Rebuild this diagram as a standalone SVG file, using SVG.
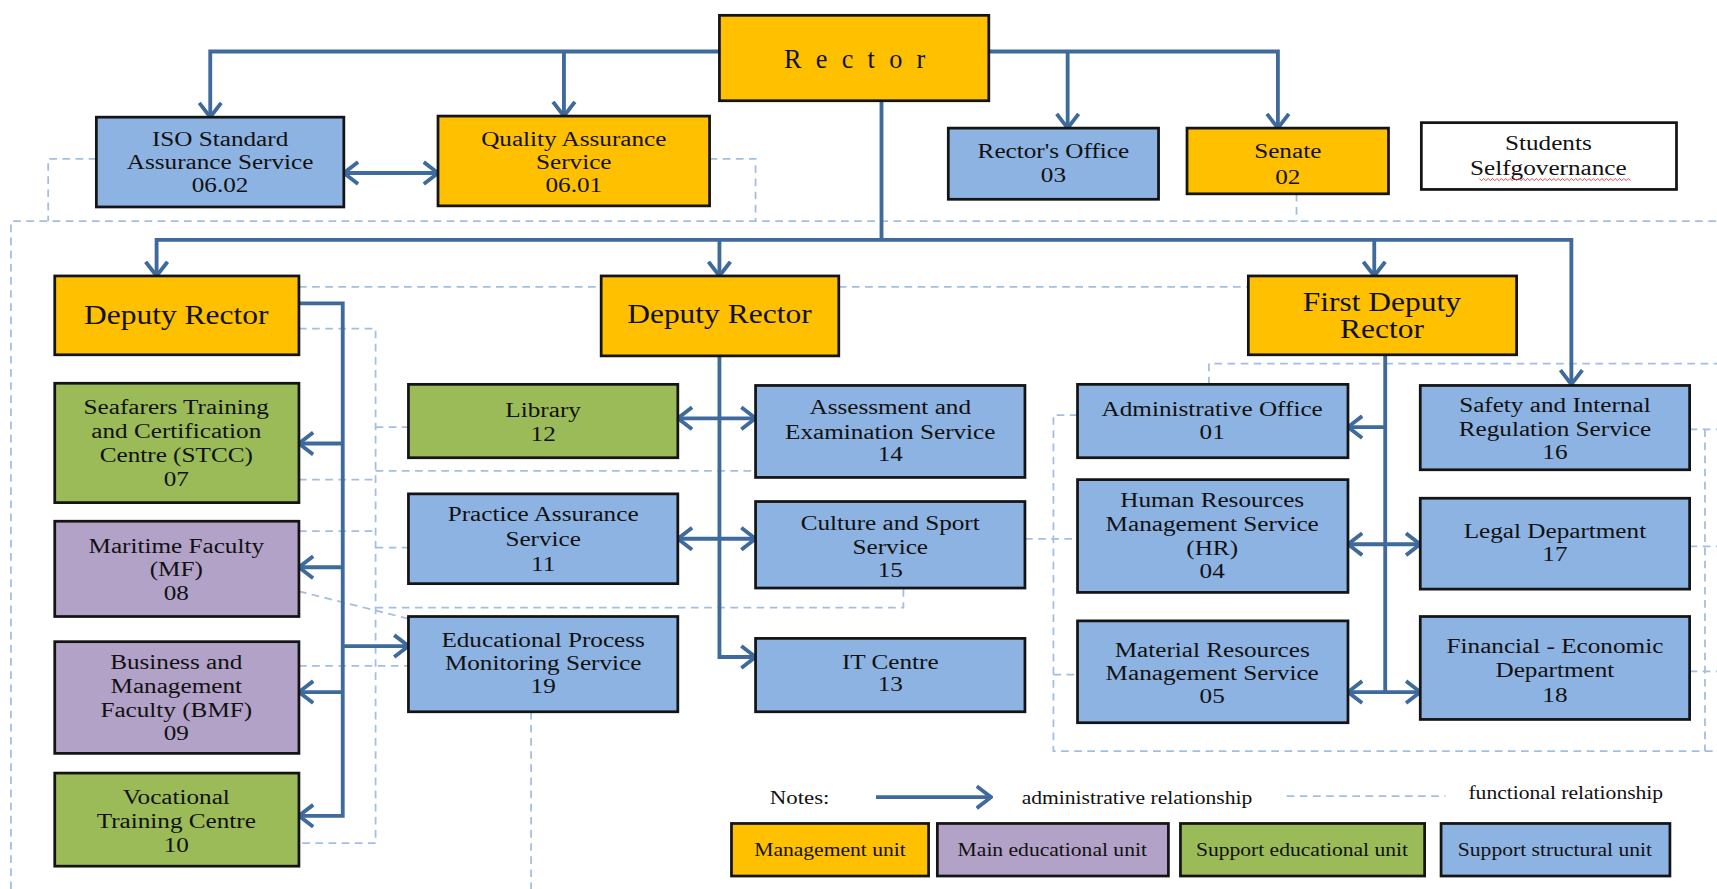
<svg xmlns="http://www.w3.org/2000/svg" width="1717" height="889" viewBox="0 0 1717 889">
<style>
.box{stroke:#141414;stroke-width:2.5}
.o{fill:#FFC000}.b{fill:#8DB3E2}.g{fill:#9BBB59}.p{fill:#B2A2C7}.w{fill:#FFFFFF}
.t{font-family:"Liberation Serif","Times New Roman",serif;font-size:20px;text-anchor:middle;fill:#111;transform-box:fill-box;transform-origin:center;transform:scaleX(1.15)}
.big{font-size:25px}
.lg{font-family:"Liberation Serif","Times New Roman",serif;font-size:17px;fill:#111;transform-box:fill-box;transform-origin:center;transform:scaleX(1.16)}
.ls{transform-origin:left center}
.adm{stroke:#3E6A9C;stroke-width:3.5;fill:none}
.fn{stroke:#A3BEDF;stroke-width:1.6;fill:none;stroke-dasharray:7 5}
</style>
<defs>
<marker id="ah" viewBox="0 0 16 24" markerWidth="16" markerHeight="24" refX="14" refY="12" orient="auto-start-reverse" markerUnits="userSpaceOnUse">
<path d="M1,2 L14,12 L1,22" fill="none" stroke="#3E6A9C" stroke-width="3.5"/>
</marker>
</defs>
<rect width="1717" height="889" fill="#FFFFFF"/>
<g transform="scale(1.09503)">
<g id="connectors">
<g class="fn">
<path d="M88,145 H44 V202"/>
<path d="M648,145 H690 V202"/>
<path d="M1184,177 V202"/>
<path d="M10,812 V202 H1568"/>
<path d="M273,262 H549"/>
<path d="M766,262 H1140"/>
<path d="M273,300 H343 V770 H273"/>
<path d="M273,438 H343"/>
<path d="M273,485 H343"/>
<path d="M273,608 H373"/>
<path d="M343,390 H373"/>
<path d="M343,500 H373"/>
<path d="M343,430 H690"/>
<path d="M343,555 H825 V537"/>
<path d="M273,540 L373,565"/>
<path d="M485,650 V812"/>
<path d="M1104,351 V332 H1568"/>
<path d="M984,379 H962 V686 H1568"/>
<path d="M936,492 H984"/>
<path d="M962,616 H984"/>
<path d="M1543,392 H1568"/>
<path d="M1557,392 V686"/>
<path d="M1543,499 H1568"/>
<path d="M1543,613 H1568"/>
<path d="M1175,727 H1320"/>
</g>
<g class="adm">
<path d="M657,47 H192 V107" marker-end="url(#ah)"/>
<path d="M515,47 V106" marker-end="url(#ah)"/>
<path d="M903,47 H1167 V117" marker-end="url(#ah)"/>
<path d="M975,47 V117" marker-end="url(#ah)"/>
<path d="M314,158 H400" marker-start="url(#ah)" marker-end="url(#ah)"/>
<path d="M805,92 V219"/>
<path d="M143,252 V219 H1435 V351" marker-start="url(#ah)" marker-end="url(#ah)"/>
<path d="M657,219 V252" marker-end="url(#ah)"/>
<path d="M1255,219 V252" marker-end="url(#ah)"/>
<path d="M273,277 H313 V745 H273" marker-end="url(#ah)"/>
<path d="M313,405 H273" marker-end="url(#ah)"/>
<path d="M313,518 H273" marker-end="url(#ah)"/>
<path d="M313,632 H273" marker-end="url(#ah)"/>
<path d="M313,590 H373" marker-end="url(#ah)"/>
<path d="M657,325 V600 H690" marker-end="url(#ah)"/>
<path d="M619,382 H690" marker-start="url(#ah)" marker-end="url(#ah)"/>
<path d="M619,492 H690" marker-start="url(#ah)" marker-end="url(#ah)"/>
<path d="M1265,324 V632"/>
<path d="M1265,390 H1231" marker-end="url(#ah)"/>
<path d="M1231,497 H1297" marker-start="url(#ah)" marker-end="url(#ah)"/>
<path d="M1231,632 H1297" marker-start="url(#ah)" marker-end="url(#ah)"/>
<path d="M800,728 H905" marker-end="url(#ah)"/>
</g>
</g>

<g id="n-rector"><rect class="box o" x="657" y="14" width="246" height="78"/><text x="787" y="62" style="font-family:'Liberation Serif','Times New Roman',serif;font-size:24px;letter-spacing:13px;text-anchor:middle;fill:#111">Rector</text></g>
<g id="n-iso"><rect class="box b" x="88" y="107" width="226" height="82"/><text class="t" x="201" y="133">ISO Standard</text><text class="t" x="201" y="154">Assurance  Service</text><text class="t" x="201" y="175">06.02</text></g>
<g id="n-qas"><rect class="box o" x="400" y="106" width="248" height="82"/><text class="t" x="524" y="133">Quality Assurance</text><text class="t" x="524" y="154">Service</text><text class="t" x="524" y="175">06.01</text></g>
<g id="n-office"><rect class="box b" x="866" y="117" width="192" height="65"/><text class="t" x="962" y="144">Rector's Office</text><text class="t" x="962" y="166">03</text></g>
<g id="n-senate"><rect class="box o" x="1084" y="117" width="184" height="60"/><text class="t" x="1176" y="144">Senate</text><text class="t" x="1176" y="168">02</text></g>
<g id="n-students"><rect class="box w" x="1298" y="112" width="233" height="61"/><text class="t" x="1414" y="137">Students</text><text class="t" x="1414" y="160">Selfgovernance</text><path d="M1351,163 l2,2 l2,-2 l2,2 l2,-2 l2,2 l2,-2 l2,2 l2,-2 l2,2 l2,-2 l2,2 l2,-2 l2,2 l2,-2 l2,2 l2,-2 l2,2 l2,-2 l2,2 l2,-2 l2,2 l2,-2 l2,2 l2,-2 l2,2 l2,-2 l2,2 l2,-2 l2,2 l2,-2 l2,2 l2,-2 l2,2 l2,-2 l2,2 l2,-2 l2,2 l2,-2 l2,2 l2,-2 l2,2 l2,-2 l2,2 l2,-2 l2,2 l2,-2 l2,2 l2,-2 l2,2 l2,-2 l2,2 l2,-2 l2,2 l2,-2 l2,2 l2,-2 l2,2 l2,-2 l2,2 l2,-2 l2,2 l2,-2 l2,2 l2,-2 l2,2 l2,-2 l2,2 l2,-2 l2,2" fill="none" stroke="#E03030" stroke-width="0.8"/></g>
<g id="n-dr-left"><rect class="box o" x="50" y="252" width="223" height="72"/><text class="t big" x="161" y="296">Deputy Rector</text></g>
<g id="n-dr-mid"><rect class="box o" x="549" y="252" width="217" height="73"/><text class="t big" x="657" y="295">Deputy Rector</text></g>
<g id="n-fdr"><rect class="box o" x="1140" y="252" width="245" height="72"/><text class="t big" x="1262" y="284">First Deputy</text><text class="t big" x="1262" y="309">Rector</text></g>
<g id="n-stcc"><rect class="box g" x="50" y="350" width="223" height="109"/><text class="t" x="161" y="378">Seafarers Training</text><text class="t" x="161" y="400">and Certification</text><text class="t" x="161" y="422">Centre (STCC)</text><text class="t" x="161" y="444">07</text></g>
<g id="n-mf"><rect class="box p" x="50" y="476" width="223" height="87"/><text class="t" x="161" y="505">Maritime Faculty</text><text class="t" x="161" y="526">(MF)</text><text class="t" x="161" y="548">08</text></g>
<g id="n-bmf"><rect class="box p" x="50" y="586" width="223" height="102"/><text class="t" x="161" y="611">Business  and</text><text class="t" x="161" y="633">Management</text><text class="t" x="161" y="655">Faculty (BMF)</text><text class="t" x="161" y="676">09</text></g>
<g id="n-voc"><rect class="box g" x="50" y="706" width="223" height="85"/><text class="t" x="161" y="734">Vocational</text><text class="t" x="161" y="756">Training Centre</text><text class="t" x="161" y="778">10</text></g>
<g id="n-library"><rect class="box g" x="373" y="351" width="246" height="67"/><text class="t" x="496" y="381">Library</text><text class="t" x="496" y="403">12</text></g>
<g id="n-assess"><rect class="box b" x="690" y="352" width="246" height="84"/><text class="t" x="813" y="378">Assessment  and</text><text class="t" x="813" y="401">Examination Service</text><text class="t" x="813" y="421">14</text></g>
<g id="n-practice"><rect class="box b" x="373" y="451" width="246" height="82"/><text class="t" x="496" y="476">Practice Assurance</text><text class="t" x="496" y="499">Service</text><text class="t" x="496" y="521">11</text></g>
<g id="n-culture"><rect class="box b" x="690" y="458" width="246" height="79"/><text class="t" x="813" y="484">Culture and Sport</text><text class="t" x="813" y="506">Service</text><text class="t" x="813" y="527">15</text></g>
<g id="n-edu"><rect class="box b" x="373" y="563" width="246" height="87"/><text class="t" x="496" y="591">Educational Process</text><text class="t" x="496" y="612">Monitoring Service</text><text class="t" x="496" y="633">19</text></g>
<g id="n-it"><rect class="box b" x="690" y="583" width="246" height="67"/><text class="t" x="813" y="611">IT Centre</text><text class="t" x="813" y="631">13</text></g>
<g id="n-admin"><rect class="box b" x="984" y="351" width="247" height="67"/><text class="t" x="1107" y="380">Administrative  Office</text><text class="t" x="1107" y="401">01</text></g>
<g id="n-safety"><rect class="box b" x="1297" y="352" width="246" height="77"/><text class="t" x="1420" y="376">Safety and Internal</text><text class="t" x="1420" y="398">Regulation  Service</text><text class="t" x="1420" y="419">16</text></g>
<g id="n-hr"><rect class="box b" x="984" y="438" width="247" height="103"/><text class="t" x="1107" y="463">Human Resources</text><text class="t" x="1107" y="485">Management  Service</text><text class="t" x="1107" y="507">(HR)</text><text class="t" x="1107" y="528">04</text></g>
<g id="n-legal"><rect class="box b" x="1297" y="455" width="246" height="83"/><text class="t" x="1420" y="491">Legal Department</text><text class="t" x="1420" y="512">17</text></g>
<g id="n-material"><rect class="box b" x="984" y="567" width="247" height="93"/><text class="t" x="1107" y="600">Material Resources</text><text class="t" x="1107" y="621">Management  Service</text><text class="t" x="1107" y="642">05</text></g>
<g id="n-financial"><rect class="box b" x="1297" y="563" width="246" height="94"/><text class="t" x="1420" y="596">Financial - Economic</text><text class="t" x="1420" y="618">Department</text><text class="t" x="1420" y="641">18</text></g>

<g id="legend">
<text class="lg ls" x="703" y="734" style="font-size:18px">Notes:</text>
<text class="lg ls" x="933" y="734">administrative  relationship</text>
<text class="lg ls" x="1341" y="730">functional relationship</text>
<rect class="box o" x="668" y="752" width="180" height="48"/><text class="lg" x="758" y="782" text-anchor="middle">Management unit</text>
<rect class="box p" x="856" y="752" width="211" height="48"/><text class="lg" x="961" y="782" text-anchor="middle">Main educational  unit</text>
<rect class="box g" x="1078" y="752" width="223" height="48"/><text class="lg" x="1189" y="782" text-anchor="middle">Support educational  unit</text>
<rect class="box b" x="1316" y="752" width="209" height="48"/><text class="lg" x="1420" y="782" text-anchor="middle">Support structural unit</text>
</g>
</g>
</svg>
